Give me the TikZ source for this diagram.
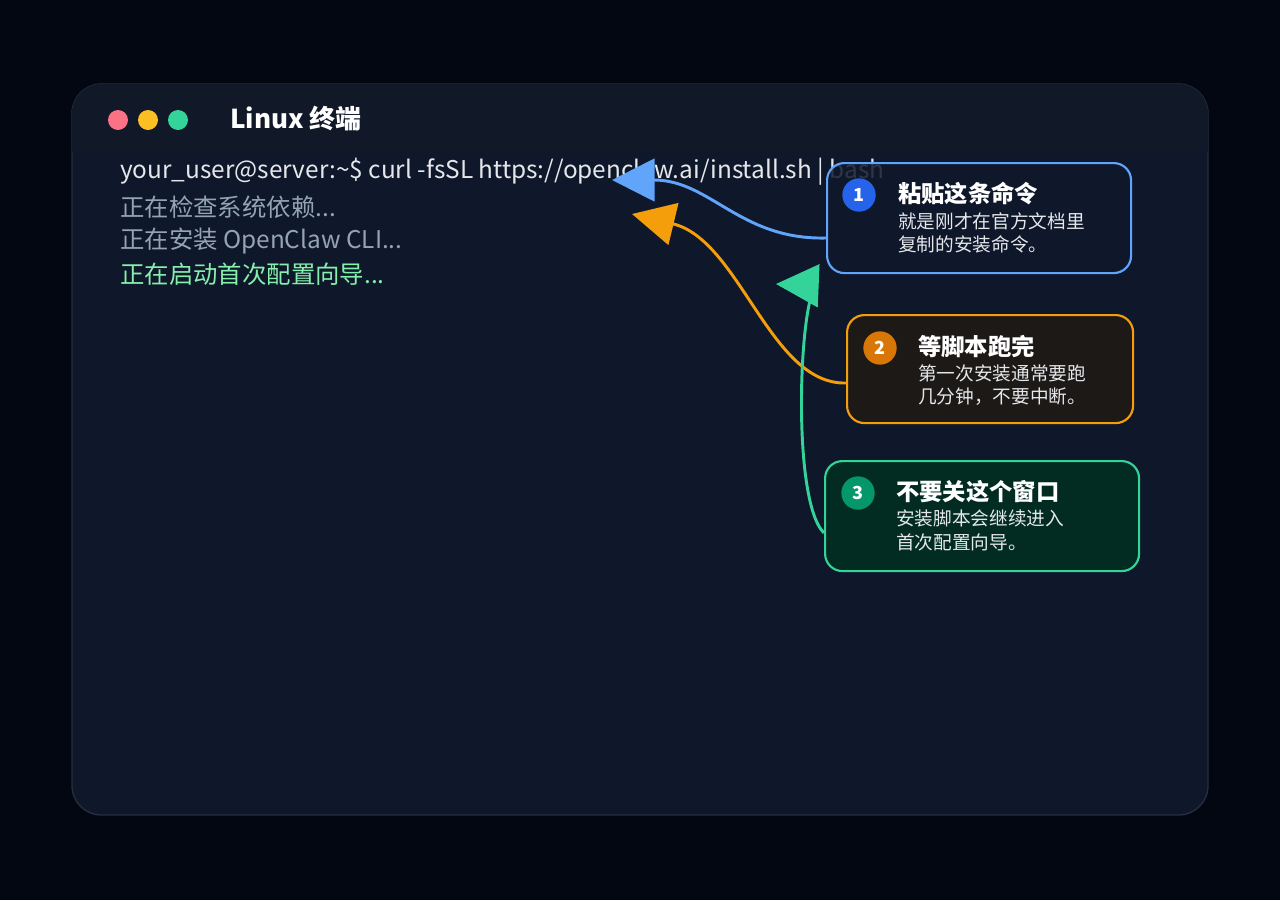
\documentclass[tikz,border=0pt]{standalone}
\usepackage{fontspec}
\setmainfont{Noto Sans CJK SC}
\usetikzlibrary{arrows.meta}
\definecolor{bg}{HTML}{030712}
\definecolor{win}{HTML}{0F172A}
\definecolor{head}{HTML}{111827}
\definecolor{cmd}{HTML}{E5E7EB}
\definecolor{dim}{HTML}{94A3B8}
\definecolor{ok}{HTML}{86EFAC}
\definecolor{cblue}{HTML}{60A5FA}
\definecolor{corange}{HTML}{F59E0B}
\definecolor{cgreen}{HTML}{34D399}
\definecolor{dred}{HTML}{FB7185}
\definecolor{dyel}{HTML}{FBBF24}
\definecolor{b2fill}{HTML}{1C1917}
\definecolor{b3fill}{HTML}{022C22}
\definecolor{n1fill}{HTML}{2563EB}
\definecolor{n2fill}{HTML}{D97706}
\definecolor{n3fill}{HTML}{059669}
\begin{document}
\begin{tikzpicture}[x=0.75pt,y=-0.75pt,
  term/.style={anchor=west,inner sep=0,font=\fontsize{18.3}{20}\selectfont},
  box/.style={rounded corners=13pt,line width=1.6pt,anchor=north west,inner sep=0},
  num/.style={circle,minimum size=25pt,inner sep=0,text=white,font=\bfseries\fontsize{13.5}{14}\selectfont},
  ttl/.style={anchor=west,inner sep=0,text=white,font=\bfseries\fontsize{17.5}{18}\selectfont},
  sub/.style={anchor=north west,inner sep=0,align=left,text=cmd,font=\fontsize{14}{17.5}\selectfont},
  conn/.style={line width=2.2pt,-{Triangle[length=32pt,width=32pt]}}]
\fill[bg] (0,0) rectangle (1280,900);
\draw[fill=win,draw=white!10!win,line width=1pt,rounded corners=22pt] (72,84) rectangle (1208,815);
\begin{scope}
\clip[rounded corners=22pt] (72,84) rectangle (1208,815);
\fill[head] (72,84) rectangle (1208,152);
\end{scope}
\fill[dred] (118,120) circle (7.5pt);
\fill[dyel] (148,120) circle (7.5pt);
\fill[cgreen] (178,120) circle (7.5pt);
\node[anchor=west,inner sep=0,text=white,font=\bfseries\fontsize{19.5}{20}\selectfont] (title) at (230,119) {Linux 终端};
\node[term,text=cmd] (l1) at (120,172) {your\_user@server:\textasciitilde\$ curl -fsSL https://openclaw.ai/install.sh | bash};
\node[term,text=dim] (l2) at (120,207) {正在检查系统依赖...};
\node[term,text=dim] (l3) at (120,241) {正在安装 OpenClaw CLI...};
\node[term,text=ok] (l4) at (120,274) {正在启动首次配置向导...};
% callout boxes
\node[box,draw=cblue,fill=win,fill opacity=0.85,minimum width=228pt,minimum height=82.5pt] (b1) at (826,162) {};
\node[box,draw=corange,fill=b2fill,minimum width=214.5pt,minimum height=81pt] (b2) at (846,314) {};
\node[box,draw=cgreen,fill=b3fill,minimum width=235.5pt,minimum height=82.5pt] (b3) at (824,460) {};
\coordinate (t1) at (612,180);
\coordinate (t2) at (632,214);
\coordinate (t3) at (776,284);
\coordinate (s1) at (826,238);
\coordinate (s2) at (846,383);
\coordinate (s3) at (824,533);
\draw[conn,cblue] (s1) .. controls (740,240) and (710,180) .. (t1);
\draw[conn,corange] (s2) .. controls (770,385) and (740,240) .. (t2);
\draw[conn,cgreen] (s3) .. controls (790,500) and (800,285) .. (t3);
\node[num,fill=n1fill] (n1) at (859,195) {1};
\node[ttl] (h1) at (898,193) {粘贴这条命令};
\node[sub] (d1) at (898,212) {就是刚才在官方文档里\\复制的安装命令。};
\node[num,fill=n2fill] (n2) at (880,348) {2};
\node[ttl] (h2) at (918,346) {等脚本跑完};
\node[sub] (d2) at (918,364) {第一次安装通常要跑\\几分钟，不要中断。};
\node[num,fill=n3fill] (n3) at (858,493) {3};
\node[ttl] (h3) at (896,492) {不要关这个窗口};
\node[sub] (d3) at (896,510) {安装脚本会继续进入\\首次配置向导。};
\end{tikzpicture}
\end{document}
